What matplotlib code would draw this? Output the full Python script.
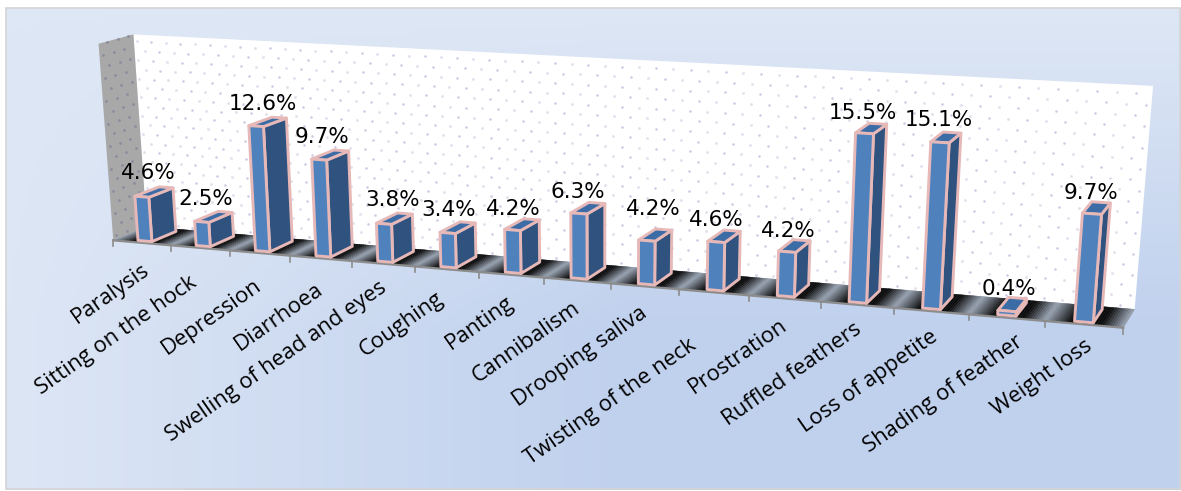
import numpy as np
import matplotlib
matplotlib.use("Agg")
import matplotlib.pyplot as plt
from matplotlib.colors import LinearSegmentedColormap
from matplotlib.patches import Polygon, Rectangle

categories = ["Paralysis", "Sitting on the hock", "Depression", "Diarrhoea",
              "Swelling of head and eyes", "Coughing", "Panting", "Cannibalism",
              "Drooping saliva", "Twisting of the neck", "Prostration",
              "Ruffled feathers", "Loss of appetite", "Shading of feather",
              "Weight loss"]
values = [4.6, 2.5, 12.6, 9.7, 3.8, 3.4, 4.2, 6.3, 4.2, 4.6, 4.2, 15.5, 15.1, 0.4, 9.7]
value_labels = ["4.6%", "2.5%", "12.6%", "9.7%", "3.8%", "3.4%", "4.2%", "6.3%",
                "4.2%", "4.6%", "4.2%", "15.5%", "15.1%", "0.4%", "9.7%"]
y_max = 20

W, H = 1181, 491
n = len(categories)

# hand placed shifts for the value labels, in pixels
label_dx = [6, 4, 7, 3, 9, 1, 1, -1, 7, 0, 1, -2, -1, 2, -1]
label_dy = [0, 1, 2, 1, 0, 1, 3, 3, -8, 2, 3, 4, 2, 2, 3]
# same for the category labels, measured from the middle of each category
name_dx = [5, -6, -1, 0, 2, -5, 0, 0, 0, -20, 0, 2, 5, 14, 6]
name_dy = [25, 33, 30, 29, 22, 27, 26, 26, 25, 51, 25, 23, 24, 22, 20]

# box corners (category, value, depth) and where they land on the canvas
box_world = [(0, 0, 0), (n, 0, 0), (0, 0, 1), (n, 0, 1),
             (0, y_max, 1), (n, y_max, 1), (0, y_max, 0)]
box_pixels = [(115, 240), (1123, 329), (145, 227), (1135, 308),
              (135, 35), (1153, 86), (97, 43)]


def fit_camera(world, pixels):
    rows = []
    for (x, y, z), (u, v) in zip(world, pixels):
        rows.append([x, y, z, 1, 0, 0, 0, 0, -u * x, -u * y, -u * z, -u])
        rows.append([0, 0, 0, 0, x, y, z, 1, -v * x, -v * y, -v * z, -v])
    return np.linalg.svd(np.array(rows, float))[2][-1].reshape(3, 4)


cam = fit_camera(box_world, box_pixels)


def proj(x, y, z):
    p = cam @ np.array([x, y, z, 1.0])
    return p[0] / p[2], p[1] / p[2]


def face(ax, corners, color, edge="none", lw=0, zorder=2):
    ax.add_patch(Polygon([proj(*c) for c in corners], closed=True, facecolor=color,
                         edgecolor=edge, linewidth=lw, joinstyle="round", zorder=zorder))


fig = plt.figure(figsize=(W / 100, H / 100), dpi=100, facecolor="white")
ax = fig.add_axes([0, 0, 1, 1])
ax.set_xlim(0, W)
ax.set_ylim(H, 0)
ax.axis("off")

# plate background: pale along the top and left, deeper towards the bottom right
xx, yy = np.meshgrid(np.linspace(0, 1, 300), np.linspace(0, 1, 150))
shade = np.clip(yy * 1.5, 0, 1) * np.clip(xx * 1.8 + 0.05, 0, 1)
plate = LinearSegmentedColormap.from_list("plate", ["#dee7f5", "#c0d1ee"])
ax.imshow(shade, extent=(6, W, H - 1, 8), cmap=plate, vmin=0, vmax=1, aspect="auto", zorder=0)
ax.add_patch(Rectangle((6, 8), W - 7, H - 10, fill=False, edgecolor="#d4d4d4", lw=1.2, zorder=1))
ax.set_xlim(0, W)
ax.set_ylim(H, 0)

# walls
face(ax, [(0, 0, 1), (n, 0, 1), (n, y_max, 1), (0, y_max, 1)], "white")
face(ax, [(0, 0, 0), (0, 0, 1), (0, y_max, 1), (0, y_max, 0)], "#a8a8a8")

# dotted pattern on the walls
dots = []
for r, yv in enumerate(np.arange(0.3, y_max, 0.95)):
    for xv in np.arange(0.05 + 0.125 * (r % 2), n, 0.25):
        dots.append(proj(xv, yv, 1))
dots = np.array(dots)
ax.scatter(dots[::2, 0], dots[::2, 1], s=4, color="#e2dfec", linewidths=0, zorder=2.1)
ax.scatter(dots[1::2, 0], dots[1::2, 1], s=3.5, color="#cfcbe2", linewidths=0, zorder=2.1)
side = []
for r, yv in enumerate(np.arange(0.4, y_max, 1.15)):
    for zv in np.arange(0.1 + 0.15 * (r % 2), 1, 0.3):
        side.append(proj(0, yv, zv))
side = np.array(side)
ax.scatter(side[:, 0], side[:, 1], s=4, color="#8b8b9c", linewidths=0, zorder=2.1)

# floor, a dark sheen that repeats once per category
sheen = LinearSegmentedColormap.from_list("sheen", [(0, "#98a2b0"), (0.32, "#0c0c0c"),
                                                    (0.72, "#0c0c0c"), (1, "#98a2b0")])
steps = 32
for i in range(n):
    for s in range(steps):
        a, b = i + s / steps, i + (s + 1) / steps
        c = sheen((s + 0.5) / steps)
        face(ax, [(a, 0, 0), (b, 0, 0), (b, 0, 1), (a, 0, 1)], c, edge=c, lw=0.3, zorder=2.2)

# front edge of the floor and the category ticks
x0, y0 = proj(0, 0, 0)
x1, y1 = proj(n, 0, 0)
ax.plot([x0, x1], [y0, y1], color="#8c8c8c", lw=1.6, zorder=2.3)
for i in range(n + 1):
    tx, ty = proj(i, 0, 0)
    ax.plot([tx, tx], [ty, ty + 6], color="#8c8c8c", lw=1.2, zorder=2.3)

# bars
bar_l, bar_r = 0.36, 0.60
bar_f, bar_b = 0.12, 0.85
edge = "#e6b9b8"
for i, v in enumerate(values):
    l, r = i + bar_l, i + bar_r
    face(ax, [(r, 0, bar_f), (r, 0, bar_b), (r, v, bar_b), (r, v, bar_f)], "#30527f", edge, 2.1, 3)
    face(ax, [(l, v, bar_f), (r, v, bar_f), (r, v, bar_b), (l, v, bar_b)], "#3c6ca6", edge, 2.1, 3)
    face(ax, [(l, 0, bar_f), (r, 0, bar_f), (r, v, bar_f), (l, v, bar_f)], "#4f81bd", edge, 2.1, 3)
    mx, my = proj((l + r) / 2, v, bar_f)
    ax.text(mx + label_dx[i], my - 14 + label_dy[i], value_labels[i], ha="center", va="bottom",
            fontsize=15.5, family="DejaVu Sans", color="black", zorder=5)

# category labels hang off the ticks
for i, name in enumerate(categories):
    tx, ty = proj(i + 0.5, 0, 0)
    ax.text(tx + name_dx[i], ty + name_dy[i], name, rotation=35, rotation_mode="anchor",
            ha="right", va="center", fontsize=15.8, family="Open Sans", color="black", zorder=5)

fig.savefig("out.png", dpi=100, facecolor="white")
